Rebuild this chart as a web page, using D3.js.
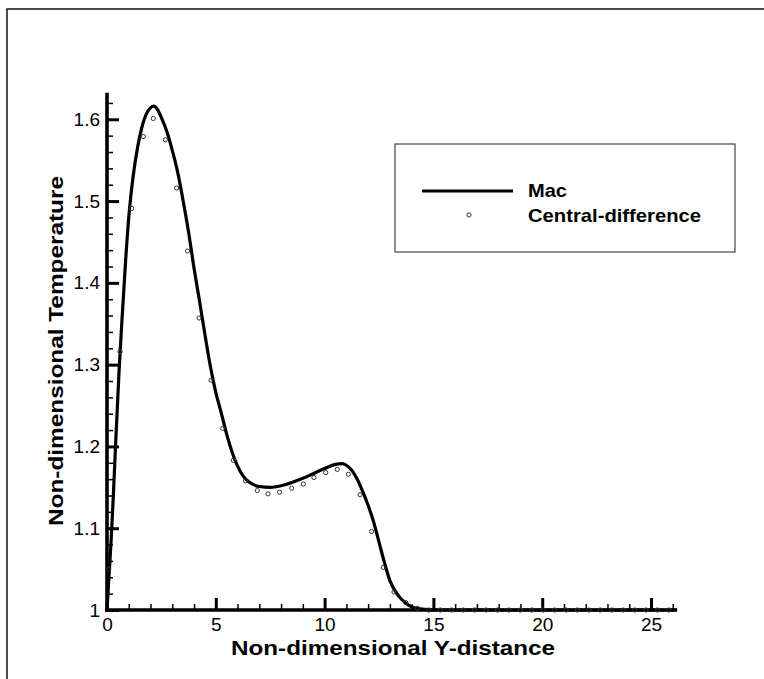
<!DOCTYPE html>
<html>
<head>
<meta charset="utf-8">
<script src="https://cdn.jsdelivr.net/npm/d3@7"></script>
<style>
  html, body { margin: 0; padding: 0; background: #fff; }
  svg { display: block; }
  text { font-family: "Liberation Sans", Arial, sans-serif; }
</style>
</head>
<body>
<svg id="chart" width="764" height="679"></svg>
<script>
// ---- Data ----
const macX = [0, 0.1, 0.2, 0.3, 0.4, 0.55, 0.7, 0.85, 1.0, 1.2, 1.4, 1.6, 1.8, 2.0, 2.15, 2.3, 2.5, 2.75, 3.0, 3.25, 3.5, 3.75, 4.0, 4.25, 4.5, 4.75, 5.0, 5.25, 5.5, 5.75, 6.0, 6.25, 6.5, 6.75, 7.0, 7.5, 8.0, 8.5, 9.0, 9.5, 10.0, 10.5, 10.8, 11.0, 11.25, 11.5, 11.75, 12.0, 12.25, 12.5, 12.75, 13.0, 13.25, 13.5, 13.75, 14.0, 14.5, 15.0, 20.0, 26.2];
const macT = [1.0, 1.045, 1.09, 1.145, 1.205, 1.29, 1.36, 1.425, 1.48, 1.53, 1.565, 1.59, 1.606, 1.614, 1.616, 1.613, 1.602, 1.585, 1.562, 1.535, 1.5, 1.462, 1.418, 1.378, 1.337, 1.298, 1.266, 1.241, 1.215, 1.193, 1.176, 1.164, 1.157, 1.153, 1.151, 1.150, 1.152, 1.156, 1.161, 1.167, 1.173, 1.178, 1.179, 1.177, 1.171, 1.160, 1.145, 1.128, 1.108, 1.083, 1.058, 1.036, 1.023, 1.014, 1.008, 1.004, 1.001, 1.0, 1.0, 1.0];

const cdX = [0.08, 0.6, 1.135, 1.668, 2.128, 2.679, 3.203, 3.70, 4.228, 4.78, 5.317, 5.804, 6.365, 6.907, 7.399, 7.93, 8.49, 9.02, 9.51, 10.05, 10.58, 11.09, 11.63, 12.16, 12.70, 13.19, 13.73, 14.27, 14.79, 15.32, 15.84, 16.37, 16.89, 17.42, 17.95, 18.47, 19.0, 19.52, 20.05, 20.57, 21.1, 21.62, 22.15, 22.67, 23.2, 23.72, 24.25, 24.77, 25.3, 25.82];
const cdT = [1.05, 1.316, 1.491, 1.579, 1.601, 1.575, 1.516, 1.439, 1.357, 1.281, 1.222, 1.183, 1.158, 1.146, 1.142, 1.144, 1.149, 1.154, 1.162, 1.168, 1.172, 1.166, 1.141, 1.096, 1.052, 1.022, 1.009, 1.002, 1.0, 1.0, 1.0, 1.0, 1.0, 1.0, 1.0, 1.0, 1.0, 1.0, 1.0, 1.0, 1.0, 1.0, 1.0, 1.0, 1.0, 1.0, 1.0, 1.0, 1.0, 1.0];

const xMajorTicks = [0, 5, 10, 15, 20, 25];
const xMinorTicks = d3.range(1, 27).filter(v => v % 5 !== 0);
const yMajorTicks = [1.0, 1.1, 1.2, 1.3, 1.4, 1.5, 1.6];
const yTickLabels = ["1", "1.1", "1.2", "1.3", "1.4", "1.5", "1.6"];
const yMinorTicks = d3.range(1, 32).map(i => +(1 + i * 0.02).toFixed(2)).filter((v, i) => (i + 1) % 5 !== 0);

const seriesNames = ["Mac", "Central-difference"];
const xTitle = "Non-dimensional Y-distance";
const yTitle = "Non-dimensional Temperature";

// ---- Drawing ----
const svg = d3.select("#chart");

// outer frame
svg.append("rect").attr("x", 7).attr("y", 9).attr("width", 820).attr("height", 720)
  .attr("fill", "none").attr("stroke", "#000").attr("stroke-width", 1.4);

const x = d3.scaleLinear().domain([0, 26.2]).range([107, 107 + 26.2 * 21.76]);
const y = d3.scaleLinear().domain([1, 1.6]).range([610, 119.3]);
const yTop = 1.6325;

const g = svg.append("g");

// curve
const line = d3.line().x(d => x(d[0])).y(d => y(d[1])).curve(d3.curveMonotoneX);
g.append("path")
  .datum(macX.map((v, i) => [v, macT[i]]))
  .attr("d", line)
  .attr("fill", "none").attr("stroke", "#000").attr("stroke-width", 3.2)
  .attr("stroke-linejoin", "round");

// axes
const xMinorAxis = d3.axisBottom(x).tickValues(xMinorTicks).tickSize(-6).tickFormat("");
const yMinorAxis = d3.axisLeft(y).tickValues(yMinorTicks).tickSize(-6).tickFormat("");
const xMajorAxis = d3.axisBottom(x).tickValues(xMajorTicks).tickSize(-12).tickPadding(8).tickFormat(d3.format("d"));
const yMajorAxis = d3.axisLeft(y).tickValues(yMajorTicks).tickSize(-12).tickPadding(7)
  .tickFormat((d, i) => yTickLabels[i]);

function styleAxis(sel, w) {
  sel.select(".domain").remove();
  sel.selectAll(".tick line").attr("stroke", "#000").attr("stroke-width", w);
  sel.selectAll(".tick text").attr("fill", "#000").attr("font-size", 19)
    .attr("font-family", "'Liberation Sans', Arial, sans-serif");
}
g.append("g").attr("transform", "translate(0,610)").call(xMinorAxis).call(s => styleAxis(s, 1.5));
g.append("g").attr("transform", "translate(107,0)").call(yMinorAxis).call(s => styleAxis(s, 1.5));
g.append("g").attr("transform", "translate(0,610)").call(xMajorAxis).call(s => styleAxis(s, 3));
g.append("g").attr("transform", "translate(107,0)").call(yMajorAxis).call(s => styleAxis(s, 3));

// axis lines
g.append("line").attr("x1", x(0) - 2).attr("x2", x(26.2)).attr("y1", y(1)).attr("y2", y(1))
  .attr("stroke", "#000").attr("stroke-width", 3.6);
g.append("line").attr("x1", x(0)).attr("x2", x(0)).attr("y1", y(1) + 2).attr("y2", y(yTop))
  .attr("stroke", "#000").attr("stroke-width", 3.6);

// markers
g.append("g").selectAll("circle")
  .data(cdX.map((v, i) => [v, cdT[i]]))
  .join("circle")
  .attr("cx", d => x(d[0])).attr("cy", d => y(d[1])).attr("r", 2.1)
  .attr("fill", "none").attr("stroke", "#333").attr("stroke-width", 1);

// titles
svg.append("text").attr("x", 393).attr("y", 655).attr("text-anchor", "middle")
  .attr("font-size", 20.5).attr("font-weight", "bold").attr("textLength", 324)
  .attr("lengthAdjust", "spacingAndGlyphs").text(xTitle);
svg.append("text").attr("transform", "translate(63,351) rotate(-90)").attr("text-anchor", "middle")
  .attr("font-size", 21).attr("font-weight", "bold").attr("textLength", 350)
  .attr("lengthAdjust", "spacingAndGlyphs").text(yTitle);

// legend
const lg = svg.append("g");
lg.append("rect").attr("x", 395).attr("y", 144).attr("width", 340).attr("height", 108)
  .attr("fill", "#fff").attr("stroke", "#444").attr("stroke-width", 1.2);
lg.append("line").attr("x1", 422).attr("x2", 513).attr("y1", 191).attr("y2", 191)
  .attr("stroke", "#000").attr("stroke-width", 3.2);
lg.append("circle").attr("cx", 469).attr("cy", 215).attr("r", 2.1)
  .attr("fill", "none").attr("stroke", "#333").attr("stroke-width", 1);
lg.append("text").attr("x", 528).attr("y", 197).attr("font-size", 19).attr("font-weight", "bold")
  .attr("textLength", 39).attr("lengthAdjust", "spacingAndGlyphs").text(seriesNames[0]);
lg.append("text").attr("x", 528).attr("y", 222).attr("font-size", 19).attr("font-weight", "bold")
  .attr("textLength", 173).attr("lengthAdjust", "spacingAndGlyphs").text(seriesNames[1]);
</script>
</body>
</html>
